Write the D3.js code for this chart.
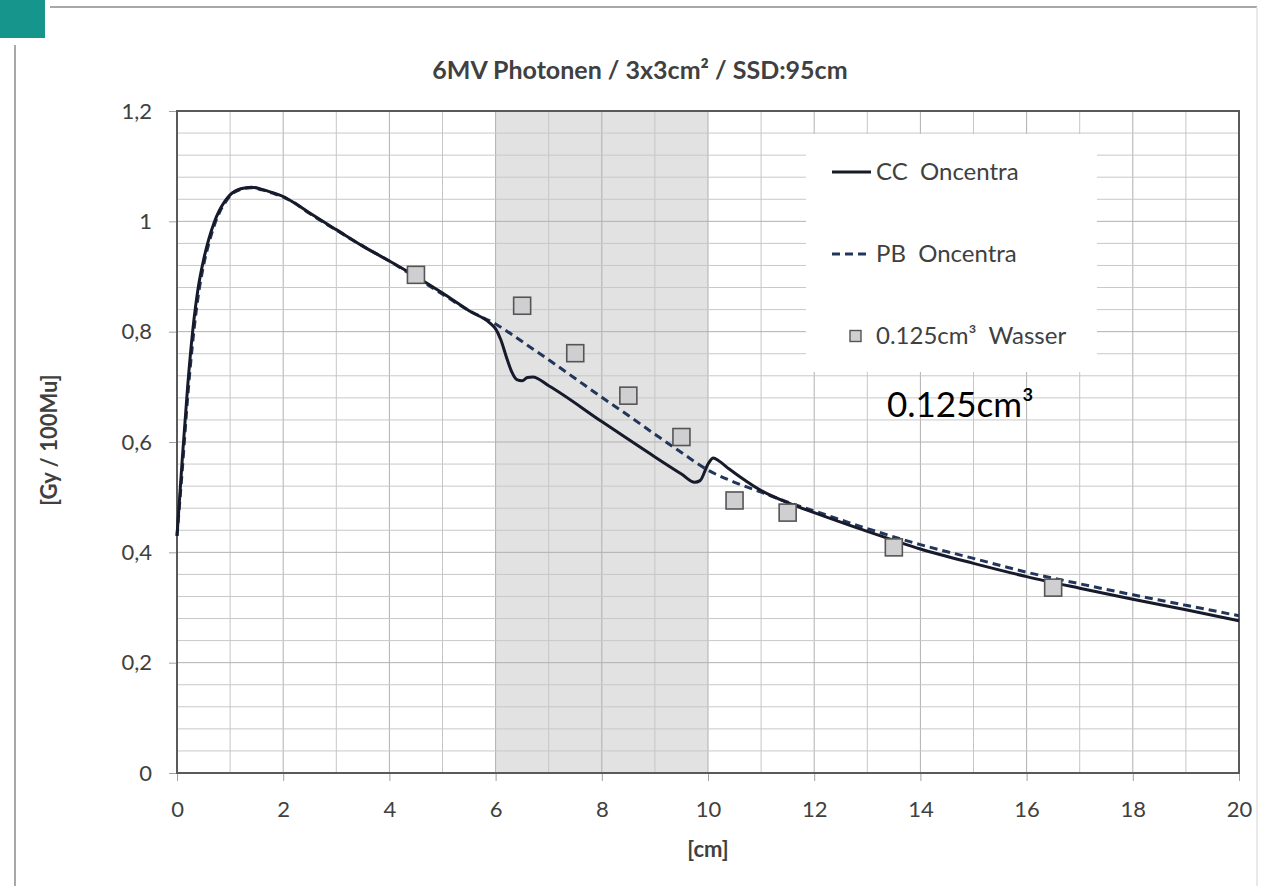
<!DOCTYPE html>
<html>
<head>
<meta charset="utf-8">
<script src="https://cdn.jsdelivr.net/npm/d3@7"></script>
<style>
  body { margin: 0; background: #fff; }
  svg { display: block; font-family: Lato, "Open Sans", sans-serif; }
</style>
</head>
<body>
<svg id="chart" width="1265" height="886"></svg>
<script>
// Depth dose curve, 6 MV photons, 3x3 cm² field, SSD 95 cm
const chartTitle = "6MV Photonen / 3x3cm² / SSD:95cm";
const xTitle = "[cm]";
const yTitle = "[Gy / 100Mu]";
const xTicks = [0, 2, 4, 6, 8, 10, 12, 14, 16, 18, 20];
const yTicks = [0, 0.2, 0.4, 0.6, 0.8, 1.0, 1.2];
const yTickLabels = ["0", "0,2", "0,4", "0,6", "0,8", "1", "1,2"];
const seriesNames = ["CC  Oncentra", "PB  Oncentra", "0.125cm³  Wasser"];
const chamberNote = "0.125cm³";

// Inhomogeneity slab (shaded)
const slabRange = [6, 10];

// Collapsed cone calculation
const ccDepth = [0, 0.1, 0.2, 0.3, 0.4, 0.5, 0.6, 0.7, 0.8, 0.9, 1.0, 1.2, 1.4, 1.6, 1.8, 2.0, 2.2, 2.5, 3.0, 3.5, 4.0, 4.5, 5.0, 5.5, 5.9, 6.0, 6.1, 6.2, 6.3, 6.4, 6.5, 6.6, 6.7, 7.0, 8.0, 9.0, 9.5, 9.75, 9.85, 10.0, 10.1, 10.2, 10.4, 10.6, 11.0, 11.5, 12.0, 13.0, 14.0, 15.0, 16.0, 17.0, 18.0, 19.0, 20.0];
const ccDose  = [0.43, 0.57, 0.70, 0.805, 0.88, 0.93, 0.968, 0.998, 1.02, 1.036, 1.048, 1.059, 1.062, 1.058, 1.052, 1.045, 1.034, 1.015, 0.985, 0.955, 0.928, 0.900, 0.870, 0.838, 0.815, 0.805, 0.785, 0.755, 0.728, 0.713, 0.711, 0.717, 0.718, 0.702, 0.637, 0.573, 0.542, 0.527, 0.530, 0.560, 0.571, 0.566, 0.551, 0.537, 0.512, 0.490, 0.472, 0.438, 0.406, 0.380, 0.356, 0.335, 0.315, 0.296, 0.276];

// Pencil beam calculation
const pbDepth = [0, 0.1, 0.2, 0.3, 0.4, 0.5, 0.6, 0.7, 0.8, 0.9, 1.0, 1.2, 1.4, 1.6, 1.8, 2.0, 2.2, 2.5, 3.0, 3.5, 4.0, 4.5, 5.0, 5.5, 6.0, 6.5, 7.0, 7.5, 8.0, 8.5, 9.0, 9.5, 10.0, 10.5, 11.0, 11.5, 12.0, 13.0, 14.0, 15.0, 16.0, 17.0, 18.0, 19.0, 20.0];
const pbDose  = [0.43, 0.55, 0.68, 0.785, 0.865, 0.92, 0.96, 0.992, 1.016, 1.033, 1.046, 1.058, 1.061, 1.057, 1.051, 1.044, 1.034, 1.014, 0.984, 0.955, 0.928, 0.898, 0.868, 0.838, 0.814, 0.782, 0.749, 0.715, 0.681, 0.648, 0.614, 0.581, 0.549, 0.527, 0.509, 0.491, 0.475, 0.443, 0.414, 0.389, 0.364, 0.343, 0.323, 0.304, 0.285];

// Ionisation chamber measurements in water
const chamberDepth = [4.5, 6.5, 7.5, 8.5, 9.5, 10.5, 11.5, 13.5, 16.5];
const chamberDose  = [0.903, 0.847, 0.761, 0.684, 0.609, 0.494, 0.472, 0.409, 0.336];

const svg = d3.select("#chart");
const plot = { left: 177, right: 1239, top: 111, bottom: 773 };
const x = d3.scaleLinear().domain([0, 20]).range([plot.left, plot.right]);
const y = d3.scaleLinear().domain([0, 1.2]).range([plot.bottom, plot.top]);

// Outer frame and corner badge
svg.append("line").attr("x1", 50).attr("x2", 1257).attr("y1", 7).attr("y2", 7)
  .attr("stroke", "#a8a8a8").attr("stroke-width", 2);
svg.append("line").attr("x1", 15).attr("x2", 15).attr("y1", 45).attr("y2", 886)
  .attr("stroke", "#a8a8a8").attr("stroke-width", 2);
svg.append("line").attr("x1", 1257).attr("x2", 1257).attr("y1", 7).attr("y2", 886)
  .attr("stroke", "#e2e2e2").attr("stroke-width", 1.5);
svg.append("rect").attr("x", 0).attr("y", 0).attr("width", 45).attr("height", 38)
  .attr("fill", "#15958b");

// Shaded slab
svg.append("rect")
  .attr("x", x(slabRange[0])).attr("y", plot.top)
  .attr("width", x(slabRange[1]) - x(slabRange[0]))
  .attr("height", plot.bottom - plot.top)
  .attr("fill", "#e2e2e2");

// Grid
const grid = svg.append("g");
const minorX = d3.range(1, 20, 1);
const minorY = d3.range(1, 30).map(i => i * 0.04);
grid.selectAll("line.vx").data(minorX).join("line")
  .attr("x1", d => x(d)).attr("x2", d => x(d))
  .attr("y1", plot.top).attr("y2", plot.bottom)
  .attr("stroke", d => d % 2 === 0 ? "#b0b0b0" : "#c6c6c6").attr("stroke-width", 1);
grid.selectAll("line.hy").data(minorY).join("line")
  .attr("y1", d => y(d)).attr("y2", d => y(d))
  .attr("x1", plot.left).attr("x2", plot.right)
  .attr("stroke", (d, i) => (i + 1) % 5 === 0 ? "#b0b0b0" : "#c8c8c8").attr("stroke-width", 1);

// Axes
const xAxis = svg.append("g").attr("transform", `translate(0,${plot.bottom})`)
  .call(d3.axisBottom(x).tickValues(xTicks).tickSize(8).tickPadding(20).tickFormat(d3.format("d")));
const yAxis = svg.append("g").attr("transform", `translate(${plot.left},0)`)
  .call(d3.axisLeft(y).tickValues(yTicks).tickSize(8).tickPadding(17).tickFormat((d, i) => yTickLabels[i]));
[xAxis, yAxis].forEach(a => {
  a.select(".domain").remove();
  a.selectAll(".tick line").attr("stroke", "#a0a0a0").attr("stroke-width", 1);
  a.selectAll(".tick text").attr("fill", "#404040").style("font-family", "Lato, sans-serif").style("font-size", "22px");
});

// Plot border
svg.append("rect")
  .attr("x", plot.left).attr("y", plot.top)
  .attr("width", plot.right - plot.left).attr("height", plot.bottom - plot.top)
  .attr("fill", "none").attr("stroke", "#5a5a5a").attr("stroke-width", 2);

// Legend panel
const legend = svg.append("g");
legend.append("rect").attr("x", 806).attr("y", 134).attr("width", 291).attr("height", 238).attr("fill", "#fff");

// Curves
const line = d3.line().x(d => x(d[0])).y(d => y(d[1])).curve(d3.curveMonotoneX);
svg.append("path")
  .datum(pbDepth.map((d, i) => [d, pbDose[i]]))
  .attr("d", line).attr("fill", "none")
  .attr("stroke", "#22365a").attr("stroke-width", 3).attr("stroke-dasharray", "8,5");
svg.append("path")
  .datum(ccDepth.map((d, i) => [d, ccDose[i]]))
  .attr("d", line).attr("fill", "none")
  .attr("stroke", "#161a2a").attr("stroke-width", 3);

// Measurements
const ms = 17;
svg.append("g").selectAll("rect").data(chamberDepth.map((d, i) => [d, chamberDose[i]])).join("rect")
  .attr("x", d => x(d[0]) - ms / 2).attr("y", d => y(d[1]) - ms / 2)
  .attr("width", ms).attr("height", ms)
  .attr("fill", "#cfcfd1").attr("stroke", "#555").attr("stroke-width", 1.6);

// Legend entries
const legendRows = [172, 254, 336];
legend.append("line").attr("x1", 832).attr("x2", 871).attr("y1", legendRows[0]).attr("y2", legendRows[0])
  .attr("stroke", "#161a2a").attr("stroke-width", 3);
legend.append("line").attr("x1", 832).attr("x2", 871).attr("y1", legendRows[1]).attr("y2", legendRows[1])
  .attr("stroke", "#22365a").attr("stroke-width", 3).attr("stroke-dasharray", "8,5");
legend.append("rect").attr("x", 850).attr("y", legendRows[2] - 5.5).attr("width", 11).attr("height", 11)
  .attr("fill", "#cfcfd1").attr("stroke", "#555").attr("stroke-width", 1.4);
legend.selectAll("text").data(seriesNames).join("text")
  .attr("x", 876).attr("y", (d, i) => legendRows[i] + 8)
  .attr("fill", "#404040").style("font-size", "24px").style("white-space", "pre")
  .attr("xml:space", "preserve")
  .text(d => d);

// Annotation
svg.append("text").attr("x", 887).attr("y", 417)
  .attr("fill", "#000").style("font-size", "35px").text(chamberNote);

// Titles
svg.append("text").attr("x", 640).attr("y", 79).attr("text-anchor", "middle")
  .attr("fill", "#404040").style("font-size", "25px").style("font-weight", "bold").text(chartTitle);
svg.append("text").attr("x", x(10)).attr("y", 857).attr("text-anchor", "middle")
  .attr("fill", "#404040").style("font-size", "22px").style("font-weight", "bold").text(xTitle);
svg.append("text").attr("transform", "translate(57,440) rotate(-90)").attr("text-anchor", "middle")
  .attr("fill", "#404040").style("font-size", "22px").style("font-weight", "bold").text(yTitle);
</script>
</body>
</html>
